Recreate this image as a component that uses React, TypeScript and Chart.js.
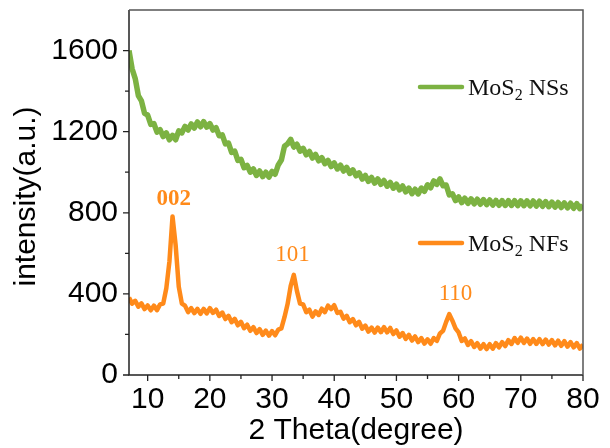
import React, { useEffect, useRef } from "react";
import { Chart, registerables } from "chart.js";

Chart.register(...registerables);

// 2θ sampling grid: start and step (degrees)
const THETA_START = 7;
const THETA_STEP = 0.5;

// MoS2 NSs intensity, every 0.5° from 7° to 80°
const NSS_VALUES = [
  1600, 1510, 1462, 1378, 1352, 1290, 1282, 1236, 1240, 1198,
  1210, 1176, 1194, 1160, 1182, 1160, 1204, 1194, 1226, 1208,
  1238, 1218, 1248, 1224, 1250, 1222, 1240, 1208, 1220, 1180,
  1184, 1140, 1144, 1098, 1104, 1058, 1064, 1022, 1034, 1000,
  1016, 984, 1006, 978, 1000, 976, 1004, 990, 1036, 1060,
  1128, 1140, 1162, 1124, 1138, 1104, 1118, 1086, 1102, 1070,
  1088, 1056, 1072, 1042, 1058, 1028, 1046, 1016, 1035, 1006,
  1024, 994, 1012, 982, 997, 966, 984, 955, 974, 946,
  967, 940, 959, 931, 950, 921, 941, 913, 932, 903,
  922, 894, 916, 893, 922, 906, 938, 923, 957, 940,
  967, 933, 937, 888, 894, 860, 878, 850, 872, 846,
  869, 844, 867, 842, 865, 840, 863, 838, 861, 837,
  860, 836, 860, 836, 860, 835, 859, 835, 859, 834,
  858, 833, 857, 832, 855, 830, 853, 828, 851, 826,
  849, 824, 847, 822, 845, 820, 838,
];

// MoS2 NFs intensity, every 0.5° from 7° to 80°
const NFS_VALUES = [
  382, 352, 366, 337, 353, 325, 343, 319, 342, 320,
  348, 352, 428, 560, 782, 640, 436, 352, 342, 310,
  330, 305, 326, 302, 326, 304, 330, 306, 322, 291,
  308, 276, 292, 260, 277, 245, 262, 231, 248, 218,
  236, 207, 226, 198, 219, 194, 217, 196, 224, 230,
  285, 350, 440, 494, 415, 352, 348, 310, 322, 288,
  314, 296, 327, 310, 342, 325, 344, 306, 312, 278,
  292, 260, 276, 245, 262, 228, 244, 214, 234, 209,
  234, 211, 236, 210, 232, 202, 220, 189, 207, 178,
  198, 170, 190, 162, 182, 155, 176, 154, 182, 168,
  205, 218, 262, 300, 268, 230, 210, 168, 180, 148,
  167, 138, 157, 130, 152, 128, 152, 130, 157, 136,
  162, 143, 172, 153, 182, 159, 184, 158, 180, 154,
  177, 153, 177, 152, 175, 150, 172, 146, 169, 144,
  167, 140, 162, 136, 157, 130, 150,
];

const SERIES_NAMES = ["NSs", "NFs"];
const COMPOUND = "MoS";
const COMPOUND_SUB = "2";

const X_TICKS = [10, 20, 30, 40, 50, 60, 70, 80];
const X_MINOR = [15, 25, 35, 45, 55, 65, 75];
const Y_TICKS = [0, 400, 800, 1200, 1600];
const Y_MINOR = [200, 600, 1000, 1400];

const X_MIN = 7;
const X_MAX = 80;
const Y_MIN = 0;
const Y_MAX = 1800;

const X_TITLE = "2 Theta(degree)";
const Y_TITLE = "intensity(a.u.)";

// peak labels: text, 2θ, intensity anchor
const PEAK_TEXT = ["002", "101", "110"];
const PEAK_THETA = [14.2, 33.3, 59.5];
const PEAK_INT = [869, 594, 400];
const PEAK_BOLD = [true, false, false];

const GREEN = "rgb(124,178,66)";
const ORANGE = "rgb(255,138,26)";

const overlayPlugin = {
  id: "overlay",
  afterDraw(chart: any) {
    const { ctx, chartArea } = chart;
    const xs = chart.scales.x;
    const ys = chart.scales.y;
    const { left, right, top, bottom } = chartArea;
    ctx.save();

    // frame
    ctx.strokeStyle = "#222";
    ctx.lineWidth = 1.5;
    ctx.beginPath();
    ctx.moveTo(left, top);
    ctx.lineTo(left, bottom);
    ctx.lineTo(right, bottom);
    ctx.stroke();
    ctx.strokeStyle = "#555";
    ctx.beginPath();
    ctx.moveTo(left, top);
    ctx.lineTo(right, top);
    ctx.lineTo(right, bottom);
    ctx.stroke();

    // ticks
    ctx.strokeStyle = "#222";
    ctx.lineWidth = 1.3;
    ctx.beginPath();
    X_TICKS.forEach((v) => {
      const px = xs.getPixelForValue(v);
      ctx.moveTo(px, bottom);
      ctx.lineTo(px, bottom + 6);
    });
    X_MINOR.forEach((v) => {
      const px = xs.getPixelForValue(v);
      ctx.moveTo(px, bottom);
      ctx.lineTo(px, bottom + 4);
    });
    Y_TICKS.forEach((v) => {
      const py = ys.getPixelForValue(v);
      ctx.moveTo(left, py);
      ctx.lineTo(left - 6, py);
    });
    Y_MINOR.forEach((v) => {
      const py = ys.getPixelForValue(v);
      ctx.moveTo(left, py);
      ctx.lineTo(left - 4, py);
    });
    ctx.stroke();

    // axis titles
    ctx.fillStyle = "#000";
    ctx.font = "30px 'Liberation Sans', Arial, sans-serif";
    ctx.textAlign = "center";
    ctx.textBaseline = "middle";
    ctx.fillText(X_TITLE, (left + right) / 2, 431);
    ctx.save();
    ctx.translate(27, (top + bottom) / 2 + 4);
    ctx.rotate(-Math.PI / 2);
    ctx.fillText(Y_TITLE, 0, 0);
    ctx.restore();

    // legend
    const legendItems = [
      { color: GREEN, y: 87, name: SERIES_NAMES[0] },
      { color: ORANGE, y: 243, name: SERIES_NAMES[1] },
    ];
    legendItems.forEach((it) => {
      ctx.strokeStyle = it.color;
      ctx.lineWidth = 4.5;
      ctx.lineCap = "round";
      ctx.beginPath();
      ctx.moveTo(420, it.y);
      ctx.lineTo(462, it.y);
      ctx.stroke();
      ctx.fillStyle = "#111";
      ctx.textAlign = "left";
      ctx.textBaseline = "alphabetic";
      const base = it.y + 8;
      let x = 468;
      ctx.font = "24px 'Liberation Serif', 'Times New Roman', serif";
      ctx.fillText(COMPOUND, x, base);
      x += ctx.measureText(COMPOUND).width;
      ctx.font = "16px 'Liberation Serif', 'Times New Roman', serif";
      ctx.fillText(COMPOUND_SUB, x, base + 5);
      x += ctx.measureText(COMPOUND_SUB).width;
      ctx.font = "24px 'Liberation Serif', 'Times New Roman', serif";
      ctx.fillText(" " + it.name, x, base);
    });

    // peak labels
    ctx.fillStyle = ORANGE;
    ctx.textAlign = "center";
    ctx.textBaseline = "middle";
    PEAK_TEXT.forEach((t, i) => {
      ctx.font = (PEAK_BOLD[i] ? "bold " : "") + "23px 'Liberation Serif', 'Times New Roman', serif";
      ctx.fillText(t, xs.getPixelForValue(PEAK_THETA[i]), ys.getPixelForValue(PEAK_INT[i]));
    });

    ctx.restore();
  },
};

const zeroPad = (s: any) => {
  s.paddingTop = 0;
  s.paddingBottom = 0;
  s.paddingLeft = 0;
  s.paddingRight = 0;
};

export default function App() {
  const canvasRef = useRef<HTMLCanvasElement | null>(null);

  useEffect(() => {
    document.body.style.margin = "0";
    const canvas = canvasRef.current;
    if (!canvas) return;
    const toPoints = (arr: number[]) =>
      arr.map((v, i) => ({ x: THETA_START + i * THETA_STEP, y: v }));

    const chart = new Chart(canvas, {
      type: "line",
      data: {
        datasets: [
          {
            label: COMPOUND + COMPOUND_SUB + " " + SERIES_NAMES[0],
            data: toPoints(NSS_VALUES),
            borderColor: GREEN,
            borderWidth: 5.5,
            pointRadius: 0,
            tension: 0,
            borderJoinStyle: "round",
          },
          {
            label: COMPOUND + COMPOUND_SUB + " " + SERIES_NAMES[1],
            data: toPoints(NFS_VALUES),
            borderColor: ORANGE,
            borderWidth: 4.5,
            pointRadius: 0,
            tension: 0,
            borderJoinStyle: "round",
          },
        ],
      },
      options: {
        animation: false,
        responsive: false,
        devicePixelRatio: 1,
        layout: { padding: { left: 0, right: 27, top: 10, bottom: 0 } },
        plugins: {
          legend: { display: false },
          tooltip: { enabled: false },
        },
        scales: {
          x: {
            type: "linear",
            min: X_MIN,
            max: X_MAX,
            afterBuildTicks: (s: any) => {
              s.ticks = X_TICKS.map((v) => ({ value: v }));
            },
            afterFit: (s: any) => {
              s.height = 73;
              zeroPad(s);
            },
            grid: { display: false, drawTicks: false },
            border: { display: false },
            ticks: {
              padding: 7,
              color: "#000",
              maxRotation: 0,
              autoSkip: false,
              callback: (v: any) => String(v),
              font: { family: "'Liberation Sans', Arial, sans-serif", size: 30 },
            },
          },
          y: {
            type: "linear",
            min: Y_MIN,
            max: Y_MAX,
            afterBuildTicks: (s: any) => {
              s.ticks = Y_TICKS.map((v) => ({ value: v }));
            },
            afterFit: (s: any) => {
              s.width = 129;
              zeroPad(s);
            },
            grid: { display: false, drawTicks: false },
            border: { display: false },
            ticks: {
              padding: 11,
              color: "#000",
              autoSkip: false,
              callback: (v: any) => String(v),
              font: { family: "'Liberation Sans', Arial, sans-serif", size: 30 },
            },
          },
        },
      },
      plugins: [overlayPlugin],
    });
    return () => chart.destroy();
  }, []);

  return (
    <div style={{ width: 610, height: 448 }}>
      <canvas ref={canvasRef} width={610} height={448} />
    </div>
  );
}
